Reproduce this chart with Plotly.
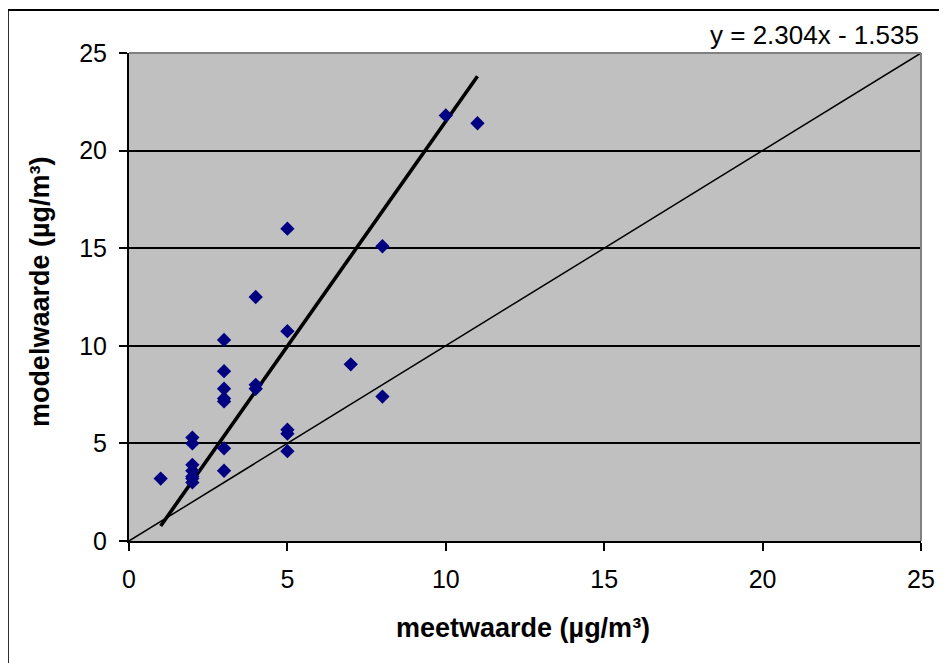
import numpy as np
import plotly.graph_objects as go

# Data
meetwaarde = [1, 2, 2, 2, 2, 2, 2, 2, 3, 3, 3, 3, 3, 3, 3, 4, 4, 4,
              5, 5, 5, 5, 5, 7, 8, 8, 10, 11]
modelwaarde = [3.2, 5.3, 5.0, 3.9, 3.6, 3.3, 3.2, 3.0,
               10.3, 8.7, 7.8, 7.3, 7.15, 4.75, 3.6,
               12.5, 8.0, 7.8,
               16.0, 10.75, 5.7, 5.5, 4.6,
               9.05, 15.1, 7.4, 21.8, 21.4]
trend_slope = 2.304
trend_intercept = -1.535
identity_range = [0, 25]
tick_values = [0, 5, 10, 15, 20, 25]

x_min, x_max = min(meetwaarde), max(meetwaarde)
trend_x = np.array([x_min, x_max])
trend_y = trend_slope * trend_x + trend_intercept

FONT = "Liberation Sans, Arial, sans-serif"

fig = go.Figure()
fig.add_trace(go.Scatter(x=identity_range, y=identity_range, mode="lines",
                         line=dict(color="black", width=1.5),
                         showlegend=False, hoverinfo="skip"))
fig.add_trace(go.Scatter(x=trend_x, y=trend_y, mode="lines",
                         line=dict(color="black", width=3.6),
                         showlegend=False, hoverinfo="skip"))
fig.add_trace(go.Scatter(x=meetwaarde, y=modelwaarde, mode="markers",
                         marker=dict(symbol="diamond", size=11, color="#000080",
                                     line=dict(width=0)),
                         showlegend=False))

# page body has an 8px margin, so the figure is 8px smaller and shifted
fig.update_layout(
    width=939, height=655,
    margin=dict(l=121, r=18, t=45, b=122),
    paper_bgcolor="white",
    plot_bgcolor="#C0C0C0",
    font=dict(family=FONT, color="black"),
    xaxis=dict(range=identity_range, tickvals=tick_values, showgrid=False,
               zeroline=False, showline=True, linecolor="black", linewidth=2,
               ticks="outside", ticklen=8, tickwidth=1.5, tickcolor="black",
               tickfont=dict(size=25, family=FONT), ticklabelstandoff=7),
    yaxis=dict(range=identity_range, tickvals=tick_values, showgrid=True,
               gridcolor="black", gridwidth=1.5,
               zeroline=False, showline=True, linecolor="black", linewidth=2,
               ticks="outside", ticklen=8, tickwidth=1.5, tickcolor="black",
               tickfont=dict(size=25, family=FONT), ticklabelstandoff=7),
)

# gray border on top and right of the plot area
fig.add_shape(type="line", xref="paper", yref="paper", x0=0, x1=1, y0=1, y1=1,
              line=dict(color="#808080", width=2))
fig.add_shape(type="line", xref="paper", yref="paper", x0=1, x1=1, y0=0, y1=1,
              line=dict(color="#808080", width=2))
# outer chart frame (left and top visible)
fig.add_shape(type="rect", xref="paper", yref="paper", x0=-0.153, x1=1.06,
              y0=-0.3, y1=1.088, line=dict(color="black", width=2),
              fillcolor="rgba(0,0,0,0)", layer="above")

fig.add_annotation(text="<b>meetwaarde (µg/m³)</b>", xref="paper", yref="paper",
                   x=0.498, y=-0.178, xanchor="center", yanchor="middle",
                   showarrow=False, font=dict(size=27, family=FONT, color="black"))
fig.add_annotation(text="<b>modelwaarde (µg/m³)</b>", xref="paper", yref="paper",
                   x=-0.1124, y=0.512, xanchor="center", yanchor="middle",
                   textangle=-90, showarrow=False,
                   font=dict(size=27, family=FONT, color="black"))
fig.add_annotation(text=f"y = {trend_slope}x - {abs(trend_intercept)}",
                   xref="paper", yref="paper", x=1.0, y=1.037,
                   xanchor="right", yanchor="middle", showarrow=False,
                   font=dict(size=26, family=FONT, color="black"))

fig.write_html("out.html")
